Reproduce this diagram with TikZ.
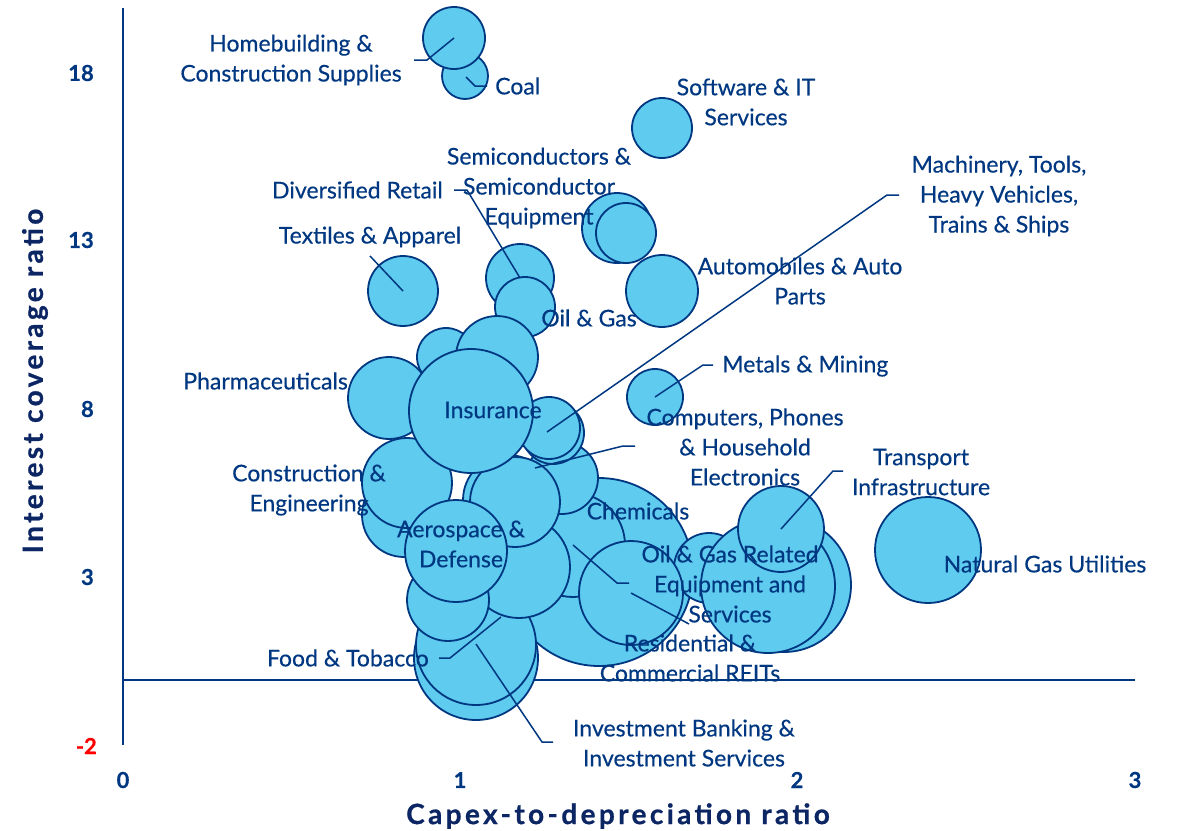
\documentclass[tikz,border=0pt]{standalone}
\usepackage{fontspec}
\setmainfont{Lato}[FakeBold=0.4]
\newfontfamily\axisfont[LetterSpace=12,FakeBold=0.8]{Lato}
\definecolor{navy}{RGB}{0,55,129}
\definecolor{deepnavy}{RGB}{12,38,100}
\definecolor{sky}{RGB}{95,203,239}
\begin{document}
\begin{tikzpicture}[x=1pt,y=-1pt,
  bub/.style={circle,draw=navy,line width=1.8pt,fill=sky,inner sep=0pt},
  lead/.style={draw=navy,line width=1.5pt},
  lab/.style={text=navy,align=center,inner sep=0pt,font=\fontsize{23}{30}\selectfont},
  tick/.style={text=navy,inner sep=0pt,font=\fontsize{22}{24}\selectfont\bfseries}]
\useasboundingbox (0,0) rectangle (1178,830);
% axes
\draw[navy,line width=2pt] (123,8) -- (123,745);
\draw[navy,line width=2pt] (123,680) -- (1135,680);
\node[tick,anchor=east] (y18) at (94,73) {18};
\node[tick,anchor=east] (y13) at (94,240) {13};
\node[tick,anchor=east] (y8) at (94,409) {8};
\node[tick,anchor=east] (y3) at (94,577) {3};
\node[tick,anchor=east,text=red] (ym2) at (97,746) {-2};
\node[tick] (x0) at (123,780) {0};
\node[tick] (x1) at (460,780) {1};
\node[tick] (x2) at (797,780) {2};
\node[tick] (x3) at (1135,780) {3};
\node[text=deepnavy,rotate=90,font=\axisfont\fontsize{28}{30}\selectfont\bfseries] (ytitle) at (35,381) {Interest coverage ratio};
\node[text=deepnavy,font=\axisfont\fontsize{28}{30}\selectfont\bfseries] (xtitle) at (618,816) {Capex-to-depreciation ratio};
% bubbles, back to front
\node[bub,minimum size=46pt] (coal) at (465,76) {};
\node[bub,minimum size=62pt] (home) at (454,38) {};
\node[bub,minimum size=60pt] (soft) at (662,128) {};
\node[bub,minimum size=70pt] (semia) at (617,228) {};
\node[bub,minimum size=60pt] (semib) at (626,233) {};
\node[bub,minimum size=70pt] (tex) at (403,291) {};
\node[bub,minimum size=68pt] (divr) at (520,278) {};
\node[bub,minimum size=60pt] (oilg) at (525,307) {};
\node[bub,minimum size=72pt] (auto) at (662,291) {};
\node[bub,minimum size=56pt] (metal) at (655,397) {};
\node[bub,minimum size=188pt] (chem) at (599,572) {};
\node[bub,minimum size=104pt] (ogre) at (573,545) {};
\node[bub,minimum size=124pt] (invb) at (476,658) {};
\node[bub,minimum size=120pt] (food) at (476,645) {};
\node[bub,minimum size=102pt] (bigk) at (519,567) {};
\node[bub,minimum size=82pt] (smll) at (448,600) {};
\node[bub,minimum size=84pt] (consb) at (404,515) {};
\node[bub,minimum size=90pt] (cons) at (407,483) {};
\node[bub,minimum size=72pt] (comp) at (562,478) {};
\node[bub,minimum size=90pt] (midb) at (508,500) {};
\node[bub,minimum size=90pt] (mida) at (515,502) {};
\node[bub,minimum size=62pt] (machb) at (553,433) {};
\node[bub,minimum size=62pt] (mach) at (549,428) {};
\node[bub,minimum size=58pt] (topa) at (446,357) {};
\node[bub,minimum size=82pt] (topb) at (497,357) {};
\node[bub,minimum size=82pt] (pharma) at (389,398) {};
\node[bub,minimum size=124pt] (ins) at (471,411) {};
\node[bub,minimum size=70pt] (rgtq) at (709,568) {};
\node[bub,minimum size=104pt] (reit) at (631,593) {};
\node[bub,minimum size=134pt] (rgtb) at (784,585) {};
\node[bub,minimum size=134pt] (rgta) at (768,586) {};
\node[bub,minimum size=86pt] (trans) at (781,529) {};
\node[bub,minimum size=106pt] (gas) at (928,550) {};
\node[bub,minimum size=102pt] (aero) at (456,551) {};
% labels
\node[lab] (homel) at (291,60) {Homebuilding \&\\Construction Supplies};
\node[lab,anchor=west] (coall) at (495,86) {Coal};
\node[lab] (softl) at (746,102) {Software \& IT\\Services};
\node[lab] (semil) at (539,188) {Semiconductors \&\\Semiconductor\\Equipment};
\node[lab,anchor=east] (divrl) at (443,190) {Diversified Retail};
\node[lab] (texl) at (370,237) {Textiles \& Apparel};
\node[lab] (autol) at (800,281) {Automobiles \& Auto\\Parts};
\node[lab] (oilgl) at (589,318) {Oil \& Gas};
\node[lab,anchor=east] (pharmal) at (348,381) {Pharmaceuticals};
\node[lab,anchor=west] (metall) at (722,366) {Metals \& Mining};
\node[lab] (machl) at (999,196) {Machinery, Tools,\\Heavy Vehicles,\\Trains \& Ships};
\node[lab] (insl) at (493,410) {Insurance};
\node[lab] (compl) at (745,447) {Computers, Phones\\\& Household\\Electronics};
\node[lab] (consl) at (309,490) {Construction \&\\Engineering};
\node[lab] (transl) at (921,472) {Transport\\Infrastructure};
\node[lab] (cheml) at (638,511) {Chemicals};
\node[lab] (aerol) at (461,544) {Aerospace \&\\Defense};
\node[lab] (ogrel) at (730,584) {Oil \& Gas Related\\Equipment and\\Services};
\node[lab] (gasl) at (1045,564) {Natural Gas Utilities};
\node[lab] (reitl) at (690,658) {Residential \&\\Commercial REITs};
\node[lab,anchor=east] (foodl) at (429,658) {Food \& Tobacco};
\node[lab] (invbl) at (684,743) {Investment Banking \&\\Investment Services};
% leader lines
\coordinate (homee) at (414,60);
\coordinate (coale) at (487,86);
\coordinate (divre) at (454,190);
\coordinate (texe) at (370,256);
\coordinate (metale) at (713,365);
\coordinate (mache) at (899,195);
\coordinate (compe) at (635,446);
\coordinate (transe) at (843,471);
\coordinate (ogree) at (629,583);
\coordinate (reite) at (689,624);
\coordinate (foode) at (439,658);
\coordinate (invbe) at (553,742);
\draw[lead] (home.center) -- (427,60) -- (homee);
\draw[lead] (466,77) -- (475,86) -- (coale);
\draw[lead] (divr.center) -- (467,190) -- (divre);
\draw[lead] (tex.center) -- (texe);
\draw[lead] (metal.center) -- (703,365) -- (metale);
\draw[lead] (547,432) -- (887,195) -- (mache);
\draw[lead] (535,468) -- (623,446) -- (compe);
\draw[lead] (trans.center) -- (833,471) -- (transe);
\draw[lead] (ogre.center) -- (617,583) -- (ogree);
\draw[lead] (reit.center) -- (reite);
\draw[lead] (501,617) -- (450,658) -- (foode);
\draw[lead] (476,644) -- (542,742) -- (invbe);
\end{tikzpicture}
\end{document}
